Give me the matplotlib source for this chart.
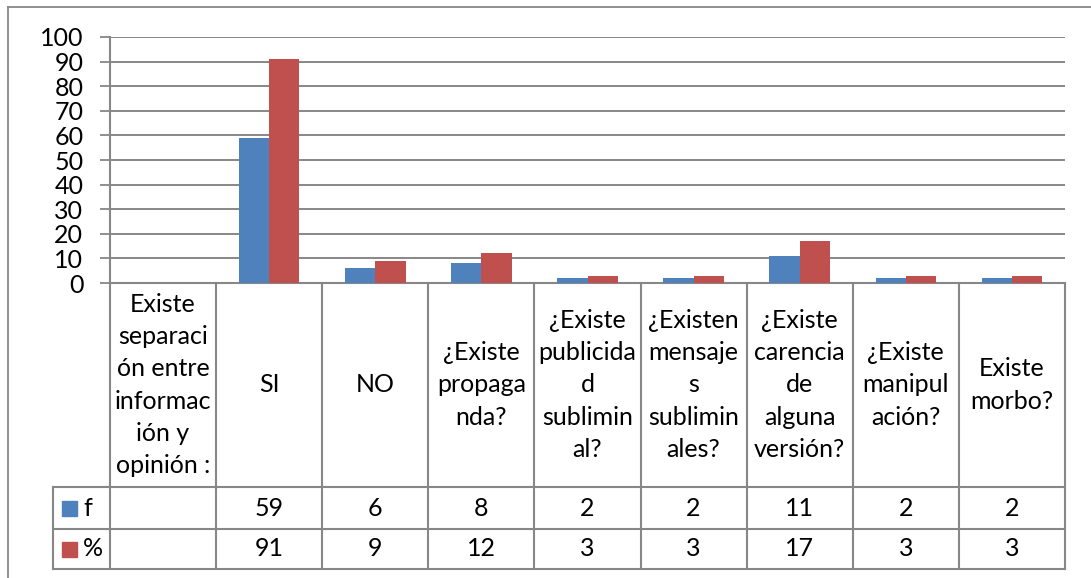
import numpy as np
import matplotlib
matplotlib.use("Agg")
import matplotlib.pyplot as plt
from matplotlib.lines import Line2D
from matplotlib.patches import Rectangle

# ---- data -------------------------------------------------------------
categories = [
    "Existe\nseparaci\nón entre\ninformac\nión y\nopinión :",
    "SI",
    "NO",
    "¿Existe\npropaga\nnda?",
    "¿Existe\npublicida\nd\nsublimin\nal?",
    "¿Existen\nmensaje\ns\nsublimin\nales?",
    "¿Existe\ncarencia\nde\nalguna\nversión?",
    "¿Existe\nmanipul\nación?",
    "Existe\nmorbo?",
]
freq = [np.nan, 59, 6, 8, 2, 2, 11, 2, 2]
pct = [np.nan, 91, 9, 12, 3, 3, 17, 3, 3]
series_names = ["f", "%"]
yticks = list(range(0, 101, 10))

# ---- style ------------------------------------------------------------
BLUE = "#4F81BD"
RED = "#C0504D"
GRID = "#878787"
FONT = "Lato"
FS = 18
plt.rcParams["font.family"] = [FONT, "DejaVu Sans"]

W, H = 1091, 578
fig = plt.figure(figsize=(W / 100, H / 100), dpi=100)


def fx(px):
    return px / W


def fy(py):
    return 1 - py / H


# plot area
left, right, top, zero = 110, 1065, 37, 283
ax = fig.add_axes([fx(left), fy(zero), fx(right - left), (zero - top) / H])
n = len(categories)
x = np.arange(n)
bw = 1 / 3.5
ax.bar(x - bw / 2, freq, bw, color=BLUE, zorder=3)
ax.bar(x + bw / 2, pct, bw, color=RED, zorder=3)
ax.set_xlim(-0.5, n - 0.5)
ax.set_ylim(0, 100)
ax.set_yticks(yticks)
ax.set_yticklabels([str(v) for v in yticks], fontsize=FS)
ax.tick_params(axis="y", length=7.2, width=1.3, color=GRID, pad=12)
ax.set_xticks([])
ax.yaxis.grid(True, color=GRID, linewidth=1.4, zorder=0)
for s in ["top", "right"]:
    ax.spines[s].set_visible(False)
for s in ["left", "bottom"]:
    ax.spines[s].set_color(GRID)
    ax.spines[s].set_linewidth(1.5)

# data table below the plot area
tbot = 569
tab = fig.add_axes([fx(left), fy(tbot), fx(right - left), (tbot - zero) / H])
tab.set_xlim(-0.5, n - 0.5)
tab.set_ylim(tbot - zero, 0)
tab.axis("off")
hdr = 487 - zero
row1 = 529 - zero
row2 = tbot - zero
legw = (left - 53) / ((right - left) / n)
lk = dict(color=GRID, linewidth=1.5, clip_on=False, solid_capstyle="projecting")

# vertical lines
for b in np.arange(n + 1) - 0.5:
    tab.add_line(Line2D([b, b], [0, row2], **lk))
tab.add_line(Line2D([-0.5 - legw, -0.5 - legw], [hdr, row2], **lk))
# horizontal lines
tab.add_line(Line2D([-0.5 - legw, n - 0.5], [hdr, hdr], **lk))
tab.add_line(Line2D([-0.5 - legw, n - 0.5], [row1, row1], **lk))
tab.add_line(Line2D([-0.5 - legw, n - 0.5], [row2, row2], **lk))

# header labels
for i, lab in enumerate(categories):
    tab.text(i, hdr / 2, lab, ha="center", va="center", fontsize=FS,
             linespacing=1.48, clip_on=False)

# values rows with legend keys
rows = [(freq, BLUE, (hdr + row1) / 2), (pct, RED, (row1 + row2) / 2)]
px_unit = (right - left) / n
for (vals, col, yc), name in zip(rows, series_names):
    tab.add_patch(Rectangle((-0.5 - legw + 9 / px_unit, yc - 7.5), 15 / px_unit, 15,
                            color=col, clip_on=False))
    tab.text(-0.5 - legw + 30 / px_unit, yc, name, ha="left", va="center",
             fontsize=FS, clip_on=False)
    for i, v in enumerate(vals):
        if not np.isnan(v):
            tab.text(i, yc, f"{v:g}", ha="center", va="center", fontsize=FS)

# outer chart frame (left and top edges)
fig.add_artist(Line2D([fx(8), fx(8)], [fy(7), 0], transform=fig.transFigure,
                      color=GRID, linewidth=1.3))
fig.add_artist(Line2D([fx(8), 1], [fy(7), fy(7)], transform=fig.transFigure,
                      color=GRID, linewidth=1.3))

fig.savefig("out.png", dpi=100)
